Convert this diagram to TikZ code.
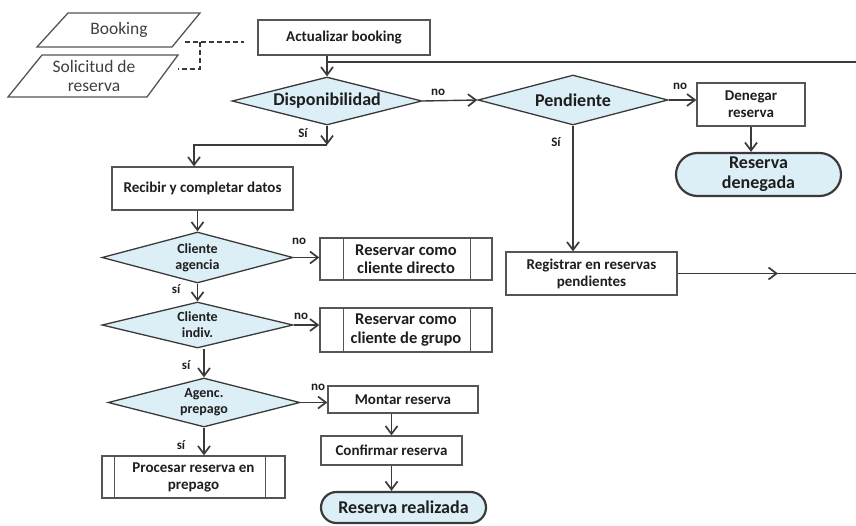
\documentclass[tikz,border=0pt]{standalone}
\usepackage{fontspec}
\setmainfont{Carlito}
\usetikzlibrary{arrows.meta,shapes.geometric,shapes.misc,decorations.markings}

\definecolor{linec}{HTML}{3A3A3A}
\definecolor{boxc}{HTML}{555555}
\definecolor{lblue}{HTML}{DCEEF6}
\definecolor{txt}{HTML}{1E1E1E}

\begin{document}
\begin{tikzpicture}[x=1pt,y=-1pt,
  tip/.tip={Straight Barb[length=8pt,width=12pt,line width=1.7pt]},
  line/.style={draw=linec, line width=1.4pt},
  arr/.style={line, -tip},
  midarrow/.style={postaction={decorate},
    decoration={markings, mark=at position #1 with {\arrow{tip}}}},
  dashline/.style={draw=linec, line width=1.3pt, dash pattern=on 5pt off 3pt},
  box/.style={rectangle, draw=boxc, line width=1.3pt, fill=white, inner sep=1pt,
    align=center, text=txt, font=\bfseries\fontsize{15}{17}\selectfont},
  decision/.style={diamond, draw=linec, line width=1.3pt, fill=lblue, aspect=4,
    inner sep=0pt, align=center, text=txt, font=\bfseries\fontsize{14}{16}\selectfont},
  terminal/.style={rounded rectangle, draw=linec, line width=2.2pt, fill=lblue,
    inner sep=1pt, align=center, text=txt, font=\bfseries\fontsize{18}{20}\selectfont},
  iotext/.style={align=center, text=txt!85, inner sep=0pt, font=\fontsize{17.5}{19}\selectfont},
  io/.style={draw=boxc, line width=1.3pt, fill=white},
  lbl/.style={inner sep=0pt, text=txt, font=\bfseries\fontsize{13}{13}\selectfont},
  sidebar/.style={draw=boxc, line width=1.2pt}
]
\useasboundingbox (0,0) rectangle (856,525);

% input documents
\draw[io] (68,13) -- (200,13) -- (172,47) -- (37,47) -- cycle;
\node[iotext] (booking) at (119,30) {Booking};
\draw[io] (42,55) -- (178,55) -- (147,97) -- (8,97) -- cycle;
\node[iotext] (solicitud) at (94,76) {Solicitud de\\reserva};

% booking update
\node[box, minimum width=172pt, minimum height=35pt] (act) at (344,37.5) {Actualizar booking};
\coordinate (bkout) at (185,42);
\coordinate (dashj) at (200,42);
\coordinate (solout) at (178,69);
\draw[dashline] (bkout) -- ([xshift=-13pt]act.west |- bkout);
\draw[dashline] (dashj) |- (solout);

% availability check
\node[decision, minimum width=190pt, minimum height=48pt,
      font=\bfseries\fontsize{18}{20}\selectfont] (disp) at (327,101) {Disponibilidad};
\draw[arr] (disp.north |- act.south) -- (disp.north);
\coordinate (loopin) at (860,62);
\draw[line] (loopin) -- (disp.north |- loopin);

\node[decision, minimum width=190pt, minimum height=50pt,
      font=\bfseries\fontsize{18}{20}\selectfont] (pend) at (573,100) {Pendiente};
\draw[arr] (disp.east) -- (pend.west);
\node[lbl] (noA) at (438,92) {no};

\node[box, minimum width=108pt, minimum height=43pt] (den) at (751,104.5) {Denegar\\reserva};
\draw[arr] (pend.east) -- (pend.east -| den.west);
\node[lbl] (noB) at (680,86) {no};

\node[terminal, minimum width=167pt, minimum height=43pt] (rden) at (758.5,174.5) {Reserva\\denegada};
\draw[arr] (den.south) -- (den.south |- rden.north);

\node[box, minimum width=171pt, minimum height=43pt] (reg) at (591.5,273.5) {Registrar en reservas\\pendientes};
\draw[arr] (pend.south) -- (pend.south |- reg.north);
\node[lbl] (siA) at (556,142) {Sí};
\coordinate (regout) at (860,273.5);
\draw[line, midarrow=0.55] (reg.east) -- (regout);

% data entry
\node[box, minimum width=181pt, minimum height=43pt] (rec) at (202.5,188.5) {Recibir y completar datos};
\coordinate (recin) at (194,145);
\draw[arr] (disp.south) -- (disp.south |- recin);
\draw[arr] (disp.south |- recin) -- (recin) -- (recin |- rec.north);
\node[lbl] (siB) at (303,133) {Sí};

\node[decision, minimum width=191pt, minimum height=51pt] (agen) at (197.5,257.5) {Cliente\\agencia};
\draw[arr] (agen.north |- rec.south) -- (agen.north);

\node[box, minimum width=172pt, minimum height=42pt,
      font=\bfseries\fontsize{16.5}{18.5}\selectfont] (dir) at (406,259) {Reservar como\\cliente directo};
\draw[sidebar] ([xshift=24pt]dir.north west) -- ([xshift=24pt]dir.south west);
\draw[sidebar] ([xshift=-22pt]dir.north east) -- ([xshift=-22pt]dir.south east);
\draw[arr] (agen.east) -- (agen.east -| dir.west);
\node[lbl] (noC) at (299,241) {no};

\node[decision, minimum width=191pt, minimum height=46pt] (indiv) at (197.5,325) {Cliente\\indiv.};
\draw[arr] (agen.south) -- (indiv.north);
\node[lbl] (siC) at (176,289) {sí};

\node[box, minimum width=172pt, minimum height=44pt,
      font=\bfseries\fontsize{16.5}{18.5}\selectfont] (grp) at (406,330) {Reservar como\\cliente de grupo};
\draw[sidebar] ([xshift=24pt]grp.north west) -- ([xshift=24pt]grp.south west);
\draw[sidebar] ([xshift=-22pt]grp.north east) -- ([xshift=-22pt]grp.south east);
\draw[arr] (indiv.east) -- (indiv.east -| grp.west);
\node[lbl] (noD) at (301,316) {no};

\node[decision, minimum width=192pt, minimum height=49pt] (prep) at (204,402.5) {Agenc.\\prepago};
\draw[arr] (prep.north |- indiv.south) -- (prep.north);
\node[lbl] (siD) at (186,365) {sí};

% booking completion
\node[box, minimum width=150pt, minimum height=27pt] (mon) at (403,399.5) {Montar reserva};
\draw[arr] (prep.east) -- (prep.east -| mon.west);
\node[lbl] (noE) at (318,387) {no};

\node[box, minimum width=141pt, minimum height=29pt] (conf) at (391.5,450.5) {Confirmar reserva};
\draw[arr] (conf.north |- mon.south) -- (conf.north);

\node[terminal, minimum width=167pt, minimum height=31pt] (rreal) at (403.5,507.5) {Reserva realizada};
\draw[arr] (conf.south) -- (conf.south |- rreal.north);

\node[box, minimum width=183pt, minimum height=42pt] (proc) at (193.5,477) {Procesar reserva en\\prepago};
\draw[sidebar] ([xshift=13pt]proc.north west) -- ([xshift=13pt]proc.south west);
\draw[sidebar] ([xshift=-20pt]proc.north east) -- ([xshift=-20pt]proc.south east);
\draw[arr] (prep.south) -- (prep.south |- proc.north);
\node[lbl] (siE) at (181,445) {sí};
\end{tikzpicture}
\end{document}
